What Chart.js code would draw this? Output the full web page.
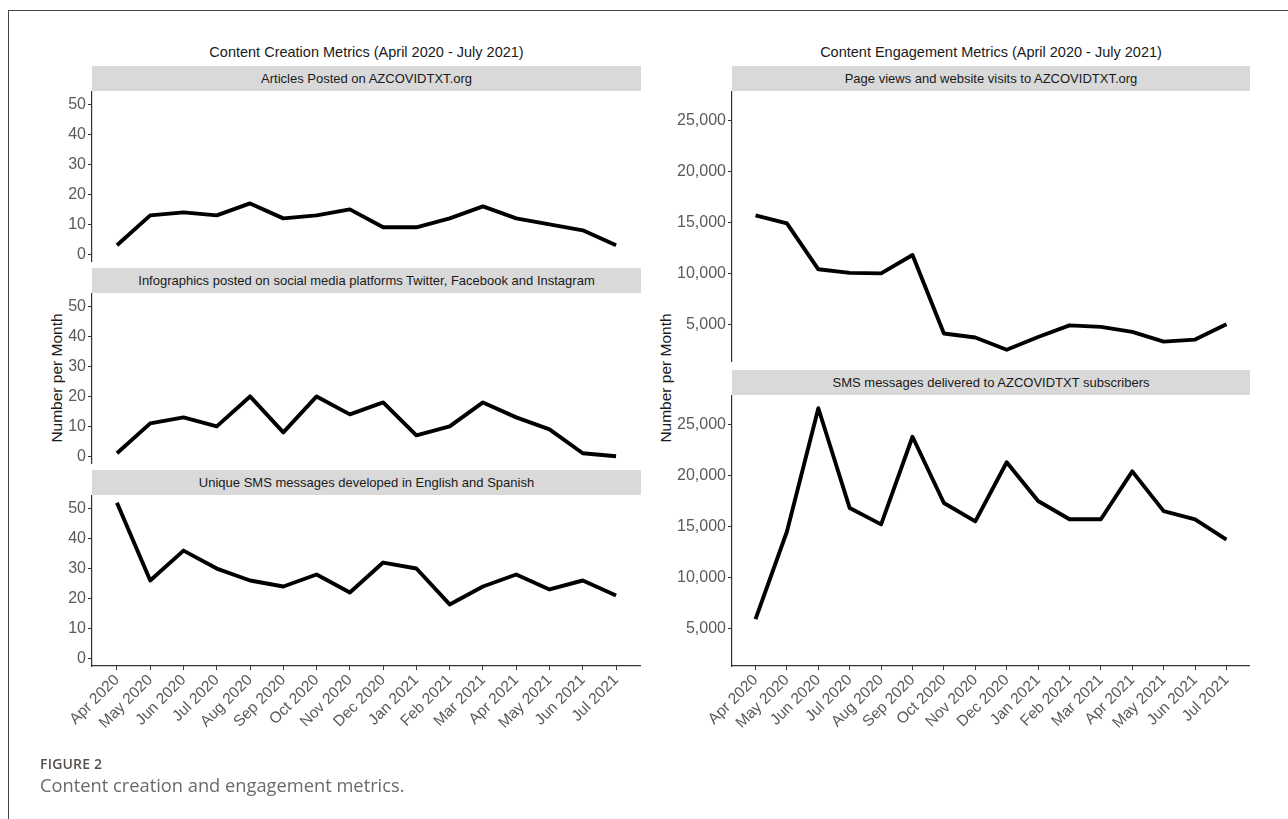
<!DOCTYPE html>
<html>
<head>
<meta charset="utf-8">
<script src="https://cdn.jsdelivr.net/npm/chart.js@4.4.1/dist/chart.umd.min.js"></script>
<style>
  html, body { margin:0; padding:0; background:#fff; }
  body { width:1288px; height:819px; position:relative; overflow:hidden; font-family:"Liberation Sans", Arial, sans-serif; }
  .frame { position:absolute; left:8px; top:10px; right:-5px; bottom:-5px; border-top:1.5px solid #444; border-left:1.5px solid #444; }
  .title { position:absolute; font-size:14.5px; color:#1a1a1a; text-align:center; line-height:18px; white-space:nowrap; }
  .strip { position:absolute; background:#d9d9d9; color:#1a1a1a; font-size:13px; text-align:center; line-height:25px; height:25px; white-space:nowrap; }
  .ytitle { position:absolute; font-size:15.5px; color:#1a1a1a; white-space:nowrap; transform:translate(-50%,-50%) rotate(-90deg); }
  canvas { position:absolute; }
  .figlab { position:absolute; left:40px; top:754px; font-family:"Open Sans", sans-serif; font-weight:600; font-size:14px; color:#55504c; letter-spacing:0.2px; }
  .figcap { position:absolute; left:40px; top:772px; font-family:"Open Sans", sans-serif; font-size:18.3px; color:#6a6a6a; }
</style>
</head>
<body>
<div class="frame"></div>

<div class="title" style="left:92px; width:549px; top:43px;">Content Creation Metrics (April 2020 - July 2021)</div>
<div class="title" style="left:732px; width:518px; top:43px;">Content Engagement Metrics (April 2020 - July 2021)</div>

<div class="strip" style="left:92px; width:549px; top:66px;">Articles Posted on AZCOVIDTXT.org</div>
<div class="strip" style="left:92px; width:549px; top:268px;">Infographics posted on social media platforms Twitter, Facebook and Instagram</div>
<div class="strip" style="left:92px; width:549px; top:470px;">Unique SMS messages developed in English and Spanish</div>
<div class="strip" style="left:732px; width:518px; top:66px;">Page views and website visits to AZCOVIDTXT.org</div>
<div class="strip" style="left:732px; width:518px; top:370px;">SMS messages delivered to AZCOVIDTXT subscribers</div>

<div class="ytitle" style="left:57px; top:378px;">Number per Month</div>
<div class="ytitle" style="left:666px; top:378px;">Number per Month</div>

<canvas id="c1" width="611" height="171" style="left:30px; top:91px;"></canvas>
<canvas id="c2" width="611" height="171" style="left:30px; top:293px;"></canvas>
<canvas id="c3" width="611" height="265" style="left:30px; top:495px;"></canvas>
<canvas id="c4" width="600" height="271" style="left:650px; top:91px;"></canvas>
<canvas id="c5" width="600" height="365" style="left:650px; top:395px;"></canvas>

<div class="figlab">FIGURE 2</div>
<div class="figcap">Content creation and engagement metrics.</div>

<script>
// ---------- DATA ----------
const months = ["Apr 2020","May 2020","Jun 2020","Jul 2020","Aug 2020","Sep 2020","Oct 2020","Nov 2020","Dec 2020","Jan 2021","Feb 2021","Mar 2021","Apr 2021","May 2021","Jun 2021","Jul 2021"];

const articlesPosted   = [3, 13, 14, 13, 17, 12, 13, 15, 9, 9, 12, 16, 12, 10, 8, 3];
const infographics     = [1, 11, 13, 10, 20, 8, 20, 14, 18, 7, 10, 18, 13, 9, 1, 0];
const uniqueSms        = [52, 26, 36, 30, 26, 24, 28, 22, 32, 30, 18, 24, 28, 23, 26, 21];
const pageViews        = [15700, 14900, 10400, 10050, 10000, 11800, 4100, 3700, 2500, 3750, 4900, 4750, 4250, 3300, 3500, 5000];
const smsDelivered     = [5900, 14500, 26600, 16800, 15200, 23800, 17300, 15500, 21300, 17500, 15700, 15700, 20400, 16500, 15700, 13700];

const creationTicks    = [0, 10, 20, 30, 40, 50];
const engagementTicks  = [5000, 10000, 15000, 20000, 25000];

// ---------- CHARTS ----------
const TICK_COLOR = '#5a5a5a';
const AXIS_COLOR = '#333333';

function makePanel(id, values, yMin, yMax, yTicks, yWidth, showX) {
  const ctx = document.getElementById(id);
  new Chart(ctx, {
    type: 'line',
    data: {
      datasets: [{
        data: values.map((v, i) => ({ x: i, y: v })),
        borderColor: '#000',
        borderWidth: 3.9,
        pointRadius: 0,
        tension: 0,
        fill: false,
        borderJoinStyle: 'round',
        borderCapStyle: 'butt'
      }]
    },
    options: {
      responsive: false,
      animation: false,
      devicePixelRatio: 1,
      layout: { padding: 0 },
      plugins: { legend: { display: false }, tooltip: { enabled: false }, title: { display: false } },
      scales: {
        x: {
          type: 'linear',
          min: -0.75,
          max: months.length - 1 + 0.75,
          display: showX,
          afterBuildTicks: s => { s.ticks = months.map((m, i) => ({ value: i })); },
          afterFit: s => { s.height = showX ? 94 : 0; s.paddingLeft = 0; s.paddingRight = 0; },
          ticks: {
            autoSkip: false,
            maxRotation: 45,
            minRotation: 45,
            padding: 1,
            color: TICK_COLOR,
            font: { family: '"Liberation Sans", Arial, sans-serif', size: 15.5 },
            callback: (v) => months[Math.round(v)]
          },
          grid: { display: true, drawOnChartArea: false, drawTicks: true, tickLength: 4, color: AXIS_COLOR, lineWidth: 1 },
          border: { display: true, color: AXIS_COLOR, width: 1.2 }
        },
        y: {
          type: 'linear',
          min: yMin,
          max: yMax,
          afterBuildTicks: s => { s.ticks = yTicks.map(v => ({ value: v })); },
          afterFit: s => { s.width = yWidth; s.paddingTop = 0; s.paddingBottom = 0; },
          ticks: {
            padding: 2,
            color: TICK_COLOR,
            font: { family: '"Liberation Sans", Arial, sans-serif', size: 16 },
            callback: (v) => v.toLocaleString('en-US')
          },
          grid: { display: true, drawOnChartArea: false, drawTicks: true, tickLength: 4, color: AXIS_COLOR, lineWidth: 1 },
          border: { display: true, color: AXIS_COLOR, width: 1.2 }
        }
      }
    }
  });
}

makePanel('c1', articlesPosted, -2.6, 54.6, creationTicks, 62, false);
makePanel('c2', infographics,   -2.6, 54.6, creationTicks, 62, false);
makePanel('c3', uniqueSms,      -2.6, 54.6, creationTicks, 62, true);
makePanel('c4', pageViews,      1300, 27900, engagementTicks, 82, false);
makePanel('c5', smsDelivered,   1300, 27900, engagementTicks, 82, true);
</script>
</body>
</html>
